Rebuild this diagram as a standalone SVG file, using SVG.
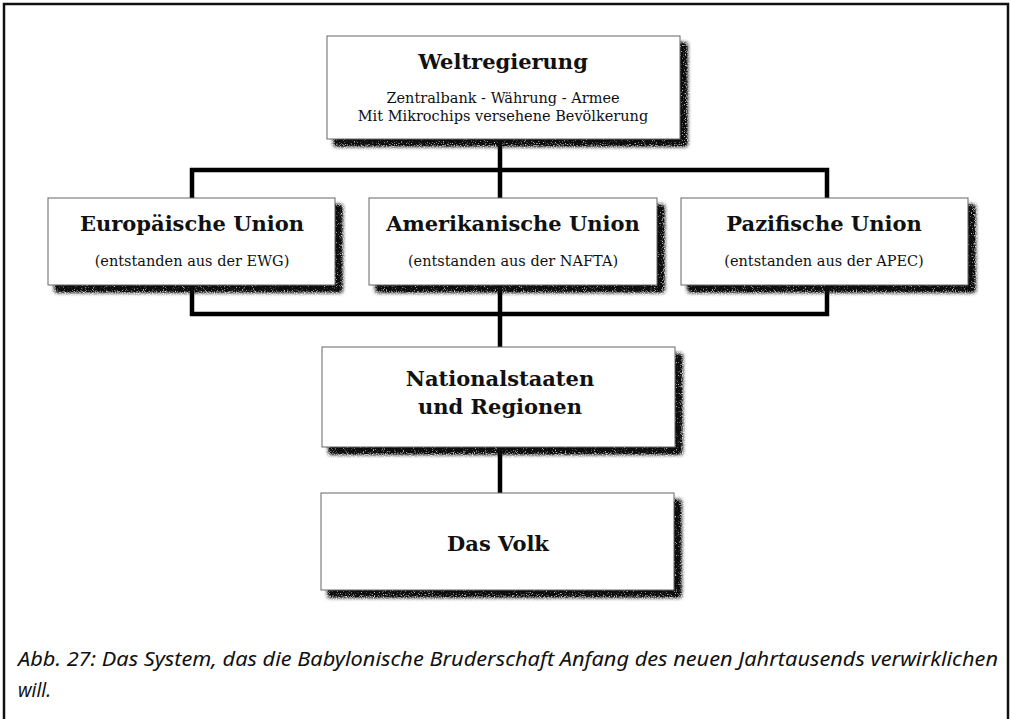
<svg xmlns="http://www.w3.org/2000/svg" width="1010" height="719" viewBox="0 0 1010 719">
<style>
.frame{fill:none;stroke:#111;stroke-width:2.5}
.box{fill:#fff;stroke:#666;stroke-width:1}
.shadow{fill:#222}
.conn{fill:none;stroke:#000;stroke-width:4.5}
.t{font-family:"DejaVu Serif",serif;font-weight:bold;font-size:21px;fill:#111;text-anchor:middle}
.s{font-family:"DejaVu Serif",serif;font-size:14.5px;fill:#111;text-anchor:middle}
.cap{font-family:"Noto Sans","Open Sans",sans-serif;font-style:italic;font-size:19.5px;fill:#111}
</style>
<defs>
<filter id="grain" x="-5%" y="-5%" width="115%" height="125%">
<feGaussianBlur in="SourceAlpha" stdDeviation="2.2" result="b"/>
<feTurbulence type="fractalNoise" baseFrequency="0.9" numOctaves="2" seed="3" result="n"/>
<feColorMatrix in="n" type="matrix" values="0 0 0 0 0 0 0 0 0 0 0 0 0 0 0 0 0 0 2.5 -0.5" result="na"/>
<feComposite in="b" in2="na" operator="arithmetic" k1="1.5" k2="0.3" k3="0" k4="0" result="m"/>
<feFlood flood-color="#111"/>
<feComposite in2="m" operator="in"/>
</filter>
</defs>
<rect width="1010" height="719" fill="#fff"/>
<path class="frame" d="M4 725 V4 H1008 V725"/>
<g id="connectors">
<path class="conn" d="M500 139 V347"/>
<path class="conn" d="M192 198 V170 H827 V198"/>
<path class="conn" d="M192 285 V314 H827 V285"/>
<path class="conn" d="M500 447 V493"/>
</g>
<g id="weltregierung">
<rect class="shadow" x="334" y="43" width="353" height="103" filter="url(#grain)"/>
<rect class="box" x="327" y="36" width="353" height="103"/>
<text class="t" x="503" y="69">Weltregierung</text>
<text class="s" x="503" y="103">Zentralbank - Währung - Armee</text>
<text class="s" x="503" y="121">Mit Mikrochips versehene Bevölkerung</text>
</g>
<g id="europaeische-union">
<rect class="shadow" x="55" y="205" width="287" height="87" filter="url(#grain)"/>
<rect class="box" x="48" y="198" width="287" height="87"/>
<text class="t" x="192" y="231">Europäische Union</text>
<text class="s" x="192" y="266">(entstanden aus der EWG)</text>
</g>
<g id="amerikanische-union">
<rect class="shadow" x="376" y="205" width="288" height="87" filter="url(#grain)"/>
<rect class="box" x="369" y="198" width="288" height="87"/>
<text class="t" x="513" y="231">Amerikanische Union</text>
<text class="s" x="513" y="266">(entstanden aus der NAFTA)</text>
</g>
<g id="pazifische-union">
<rect class="shadow" x="688" y="205" width="287" height="87" filter="url(#grain)"/>
<rect class="box" x="681" y="198" width="287" height="87"/>
<text class="t" x="824" y="231">Pazifische Union</text>
<text class="s" x="824" y="266">(entstanden aus der APEC)</text>
</g>
<g id="nationalstaaten">
<rect class="shadow" x="329" y="354" width="353" height="100" filter="url(#grain)"/>
<rect class="box" x="322" y="347" width="353" height="100"/>
<text class="t" x="500" y="386">Nationalstaaten</text>
<text class="t" x="500" y="414">und Regionen</text>
</g>
<g id="das-volk">
<rect class="shadow" x="328" y="500" width="353" height="97" filter="url(#grain)"/>
<rect class="box" x="321" y="493" width="353" height="97"/>
<text class="t" x="498" y="551">Das Volk</text>
</g>
<g id="caption">
<text class="cap" x="18" y="666" textLength="980" lengthAdjust="spacingAndGlyphs">Abb. 27: Das System, das die Babylonische Bruderschaft Anfang des neuen Jahrtausends verwirklichen</text>
<text class="cap" x="18" y="697" textLength="33" lengthAdjust="spacingAndGlyphs">will.</text>
</g>
</svg>
